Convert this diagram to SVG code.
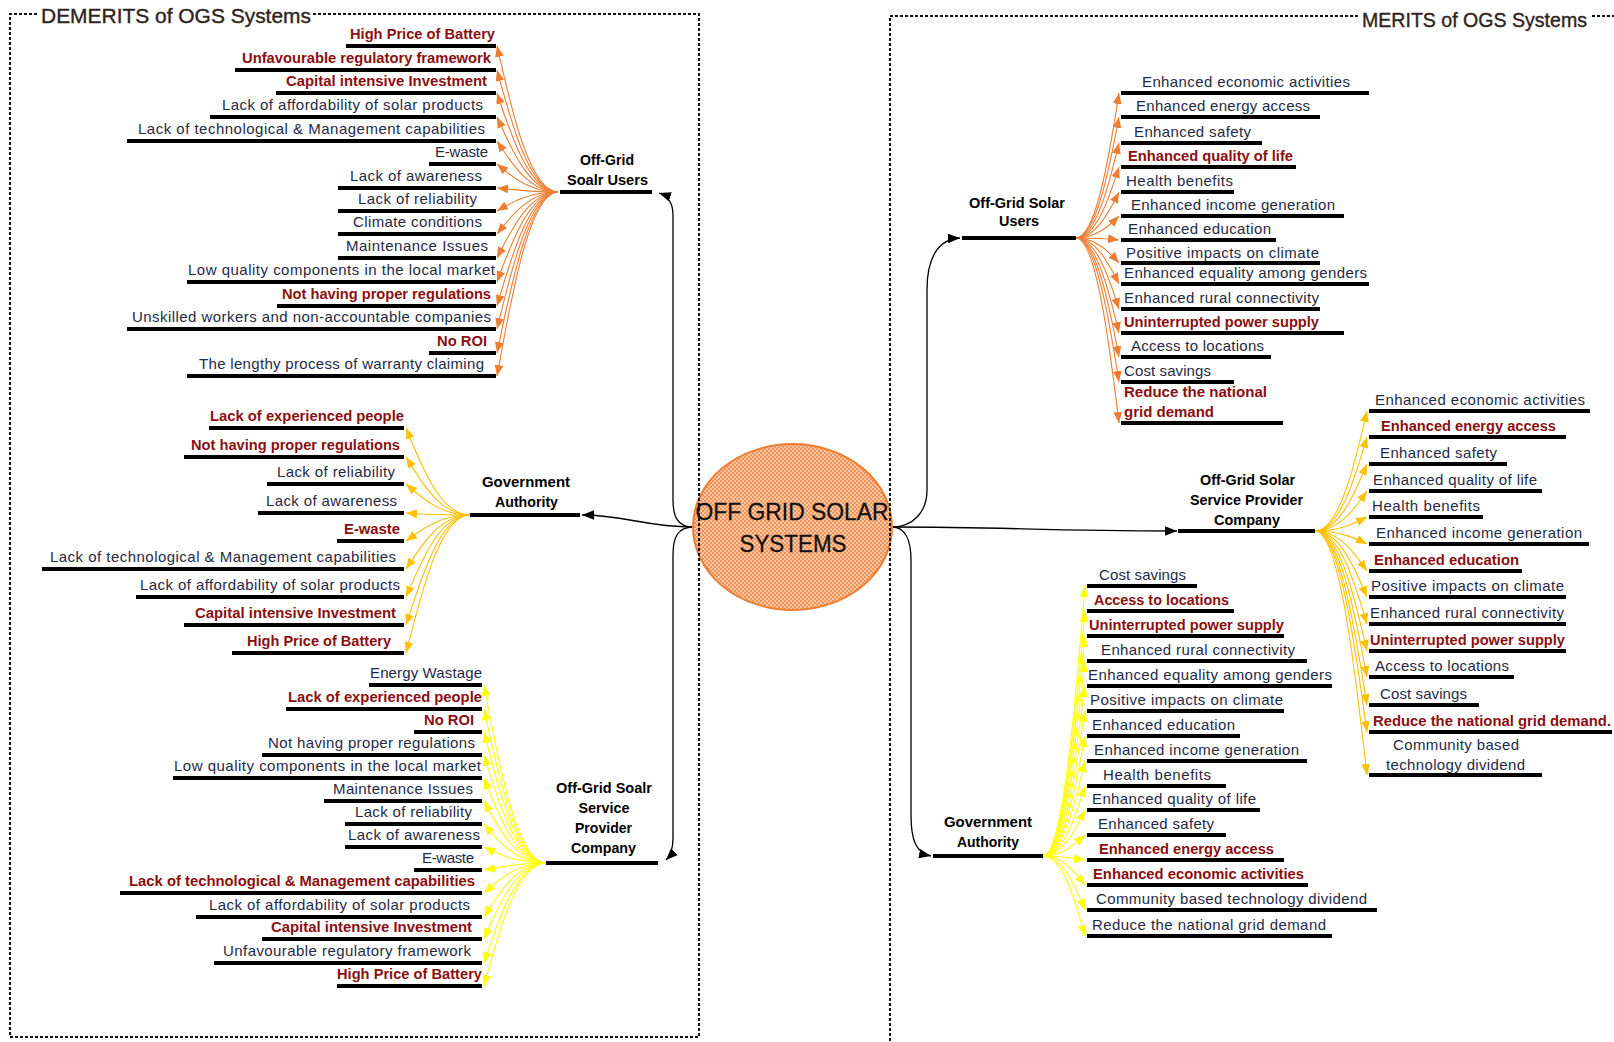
<svg xmlns="http://www.w3.org/2000/svg" width="1614" height="1042" viewBox="0 0 1614 1042">
<defs>
<style>
.r{font-family:"Liberation Sans",Arial,sans-serif;font-size:15px;fill:#1f2a44}
.b{font-family:"Liberation Sans Narrow","Liberation Sans",Arial,sans-serif;font-weight:bold;font-size:14px;fill:#8b0f0f}
.n{font-family:"Liberation Sans Narrow","Liberation Sans",Arial,sans-serif;font-weight:bold;font-size:15px;fill:#000;text-anchor:middle}
.t{font-family:"Liberation Sans Narrow","Liberation Sans",Arial,sans-serif;font-size:21px;fill:#2e2420;stroke:#2e2420;stroke-width:0.4}
.ul{stroke:#000;stroke-width:4}
.box{fill:none;stroke:#111;stroke-width:2;stroke-dasharray:3 2}
.main{fill:none;stroke:#000;stroke-width:1.3;marker-end:url(#ak)}
.co{fill:none;stroke:#ed7d31;stroke-width:1.1;marker-end:url(#ao)}
.cg{fill:none;stroke:#ffc000;stroke-width:1.1;marker-end:url(#ag)}
.cy{fill:none;stroke:#ffff00;stroke-width:1.1;marker-end:url(#ay)}
</style>
<marker id="ak" viewBox="0 0 10 8" refX="10" refY="4" markerWidth="12" markerHeight="10" markerUnits="userSpaceOnUse" orient="auto"><path d="M0,0 L10,4 L0,8 z" fill="#000"/></marker>
<marker id="ao" viewBox="0 0 10 8" refX="10" refY="4" markerWidth="11" markerHeight="9" markerUnits="userSpaceOnUse" orient="auto"><path d="M0,0 L10,4 L0,8 z" fill="#ed7d31"/></marker>
<marker id="ag" viewBox="0 0 10 8" refX="10" refY="4" markerWidth="11" markerHeight="9" markerUnits="userSpaceOnUse" orient="auto"><path d="M0,0 L10,4 L0,8 z" fill="#ffc000"/></marker>
<marker id="ay" viewBox="0 0 10 8" refX="10" refY="4" markerWidth="11" markerHeight="9" markerUnits="userSpaceOnUse" orient="auto"><path d="M0,0 L10,4 L0,8 z" fill="#ffff00"/></marker>
<pattern id="hatch" patternUnits="userSpaceOnUse" width="4" height="4"><rect width="4" height="4" fill="#f8c6a4"/><rect width="2" height="2" fill="#f09458"/><rect x="2" y="2" width="2" height="2" fill="#f09458"/></pattern>
</defs>
<rect width="1614" height="1042" fill="#fff"/>

<g id="connectors">
<path class="main" d="M693,527 C678,527 673,517 673,500 L673,215 C673,203 668,196 659,193"/>
<path class="main" d="M693,527 C645,527 625,515 582,515"/>
<path class="main" d="M693,527 C678,527 673,537 673,555 L673,838 C673,850 670,856 666,860"/>
<path class="main" d="M892,527 C913,527 927,512 927,490 L927,290 C927,258 938,239 960,238"/>
<path class="main" d="M892,527 C1010,527 1040,531 1177,531"/>
<path class="main" d="M892,527 C905,527 911,540 911,560 L911,815 C911,840 916,853 931,856"/>

<path class="co" d="M558,192 C528,192 509,97 497,46"/>
<path class="co" d="M558,192 C528,192 509,113 497,70"/>
<path class="co" d="M558,192 C528,192 509,128 497,93"/>
<path class="co" d="M558,192 C528,192 509,143 497,117"/>
<path class="co" d="M558,192 C528,192 509,159 497,141"/>
<path class="co" d="M558,192 C528,192 509,174 497,164"/>
<path class="co" d="M558,192 C528,192 509,189 497,188"/>
<path class="co" d="M558,192 C528,192 509,204 497,211"/>
<path class="co" d="M558,192 C528,192 509,219 497,234"/>
<path class="co" d="M558,192 C528,192 509,235 497,258"/>
<path class="co" d="M558,192 C528,192 509,250 497,282"/>
<path class="co" d="M558,192 C528,192 509,266 497,306"/>
<path class="co" d="M558,192 C528,192 509,281 497,329"/>
<path class="co" d="M558,192 C528,192 509,297 497,353"/>
<path class="co" d="M558,192 C528,192 509,312 497,376"/>

<path class="cg" d="M470,515 C438,515 419,458 406,428"/>
<path class="cg" d="M470,515 C438,515 419,477 406,457"/>
<path class="cg" d="M470,515 C438,515 419,495 406,484"/>
<path class="cg" d="M470,515 C438,515 419,514 406,513"/>
<path class="cg" d="M470,515 C438,515 419,532 406,541"/>
<path class="cg" d="M470,515 C438,515 419,550 406,569"/>
<path class="cg" d="M470,515 C438,515 419,568 406,597"/>
<path class="cg" d="M470,515 C438,515 419,587 406,625"/>
<path class="cg" d="M470,515 C438,515 419,605 406,653"/>

<path class="cy" d="M546,863 C515,863 496,747 484,685"/>
<path class="cy" d="M546,863 C515,863 496,763 484,709"/>
<path class="cy" d="M546,863 C515,863 496,778 484,732"/>
<path class="cy" d="M546,863 C515,863 496,793 484,755"/>
<path class="cy" d="M546,863 C515,863 496,808 484,778"/>
<path class="cy" d="M546,863 C515,863 496,823 484,801"/>
<path class="cy" d="M546,863 C515,863 496,838 484,824"/>
<path class="cy" d="M546,863 C515,863 496,853 484,847"/>
<path class="cy" d="M546,863 C515,863 496,868 484,870"/>
<path class="cy" d="M546,863 C515,863 496,883 484,893"/>
<path class="cy" d="M546,863 C515,863 496,898 484,917"/>
<path class="cy" d="M546,863 C515,863 496,912 484,939"/>
<path class="cy" d="M546,863 C515,863 496,928 484,963"/>
<path class="cy" d="M546,863 C515,863 496,943 484,986"/>

<path class="co" d="M1076,238 C1097,238 1111,144 1119,93"/>
<path class="co" d="M1076,238 C1097,238 1111,159 1119,117"/>
<path class="co" d="M1076,238 C1097,238 1111,176 1119,143"/>
<path class="co" d="M1076,238 C1097,238 1111,192 1119,167"/>
<path class="co" d="M1076,238 C1097,238 1111,208 1119,192"/>
<path class="co" d="M1076,238 C1097,238 1111,224 1119,216"/>
<path class="co" d="M1076,238 C1097,238 1111,239 1119,240"/>
<path class="co" d="M1076,238 C1097,238 1111,254 1119,263"/>
<path class="co" d="M1076,238 C1097,238 1111,268 1119,284"/>
<path class="co" d="M1076,238 C1097,238 1111,284 1119,309"/>
<path class="co" d="M1076,238 C1097,238 1111,300 1119,333"/>
<path class="co" d="M1076,238 C1097,238 1111,315 1119,357"/>
<path class="co" d="M1076,238 C1097,238 1111,332 1119,382"/>
<path class="co" d="M1076,238 C1097,238 1111,358 1119,423"/>

<path class="cg" d="M1315,531 C1341,531 1357,453 1367,411"/>
<path class="cg" d="M1315,531 C1341,531 1357,470 1367,437"/>
<path class="cg" d="M1315,531 C1341,531 1357,487 1367,464"/>
<path class="cg" d="M1315,531 C1341,531 1357,505 1367,491"/>
<path class="cg" d="M1315,531 C1341,531 1357,522 1367,517"/>
<path class="cg" d="M1315,531 C1341,531 1357,539 1367,544"/>
<path class="cg" d="M1315,531 C1341,531 1357,557 1367,571"/>
<path class="cg" d="M1315,531 C1341,531 1357,574 1367,597"/>
<path class="cg" d="M1315,531 C1341,531 1357,591 1367,624"/>
<path class="cg" d="M1315,531 C1341,531 1357,609 1367,651"/>
<path class="cg" d="M1315,531 C1341,531 1357,626 1367,677"/>
<path class="cg" d="M1315,531 C1341,531 1357,644 1367,705"/>
<path class="cg" d="M1315,531 C1341,531 1357,662 1367,732"/>
<path class="cg" d="M1315,531 C1341,531 1357,690 1367,775"/>

<path class="cy" d="M1043,856 C1064,856 1077,681 1085,586"/>
<path class="cy" d="M1043,856 C1064,856 1077,697 1085,611"/>
<path class="cy" d="M1043,856 C1064,856 1077,713 1085,636"/>
<path class="cy" d="M1043,856 C1064,856 1077,729 1085,661"/>
<path class="cy" d="M1043,856 C1064,856 1077,746 1085,686"/>
<path class="cy" d="M1043,856 C1064,856 1077,762 1085,711"/>
<path class="cy" d="M1043,856 C1064,856 1077,778 1085,736"/>
<path class="cy" d="M1043,856 C1064,856 1077,794 1085,761"/>
<path class="cy" d="M1043,856 C1064,856 1077,811 1085,786"/>
<path class="cy" d="M1043,856 C1064,856 1077,826 1085,810"/>
<path class="cy" d="M1043,856 C1064,856 1077,842 1085,835"/>
<path class="cy" d="M1043,856 C1064,856 1077,859 1085,860"/>
<path class="cy" d="M1043,856 C1064,856 1077,875 1085,885"/>
<path class="cy" d="M1043,856 C1064,856 1077,891 1085,910"/>
<path class="cy" d="M1043,856 C1064,856 1077,908 1085,936"/>
</g>

<g id="center">
<ellipse cx="792.5" cy="527" rx="99.5" ry="83" fill="url(#hatch)" stroke="#ed7d31" stroke-width="2"/>
</g>

<g id="frames">
<path class="box" d="M37,14 L10,14 L10,1037 L699,1037 L699,14 L313,14"/>
<text class="t" x="41" y="23" textLength="270" lengthAdjust="spacingAndGlyphs">DEMERITS of OGS Systems</text>
<path class="box" d="M1358,16 L890,16 L890,1042"/>
<path class="box" d="M1592,16 L1614,16"/>
<text class="t" x="1362" y="27" textLength="225" lengthAdjust="spacingAndGlyphs">MERITS of OGS Systems</text>
</g>

<g id="center-label">
<text x="792" y="520" font-family="Liberation Sans, Arial, sans-serif" font-size="24" fill="#111" stroke="#111" stroke-width="0.3" text-anchor="middle" textLength="193" lengthAdjust="spacingAndGlyphs">OFF GRID SOLAR</text>
<text x="793" y="552" font-family="Liberation Sans, Arial, sans-serif" font-size="24" fill="#111" stroke="#111" stroke-width="0.3" text-anchor="middle" textLength="107" lengthAdjust="spacingAndGlyphs">SYSTEMS</text>
</g>

<g id="hub-demerit-users">
<text class="n" x="607" y="165" textLength="54" lengthAdjust="spacingAndGlyphs">Off-Grid</text>
<text class="n" x="607.5" y="185" textLength="81" lengthAdjust="spacingAndGlyphs">Soalr Users</text>
<line class="ul" x1="560" y1="192" x2="652" y2="192"/>
</g>
<g id="hub-demerit-gov">
<text class="n" x="526" y="487" textLength="88" lengthAdjust="spacingAndGlyphs">Government</text>
<text class="n" x="526.5" y="507" textLength="63" lengthAdjust="spacingAndGlyphs">Authority</text>
<line class="ul" x1="470" y1="515" x2="580" y2="515"/>
</g>
<g id="hub-demerit-company">
<text class="n" x="604" y="793" textLength="96" lengthAdjust="spacingAndGlyphs">Off-Grid Soalr</text>
<text class="n" x="604" y="813" textLength="51" lengthAdjust="spacingAndGlyphs">Service</text>
<text class="n" x="603.5" y="833" textLength="57" lengthAdjust="spacingAndGlyphs">Provider</text>
<text class="n" x="603.5" y="853" textLength="65" lengthAdjust="spacingAndGlyphs">Company</text>
<line class="ul" x1="546" y1="863" x2="658" y2="863"/>
</g>
<g id="hub-merit-users">
<text class="n" x="1017" y="208" textLength="96" lengthAdjust="spacingAndGlyphs">Off-Grid Solar</text>
<text class="n" x="1019" y="226" textLength="40" lengthAdjust="spacingAndGlyphs">Users</text>
<line class="ul" x1="962" y1="238" x2="1076" y2="238"/>
</g>
<g id="hub-merit-company">
<text class="n" x="1247.5" y="485" textLength="95" lengthAdjust="spacingAndGlyphs">Off-Grid Solar</text>
<text class="n" x="1246.5" y="505" textLength="113" lengthAdjust="spacingAndGlyphs">Service Provider</text>
<text class="n" x="1247" y="525" textLength="66" lengthAdjust="spacingAndGlyphs">Company</text>
<line class="ul" x1="1178" y1="531" x2="1315" y2="531"/>
</g>
<g id="hub-merit-gov">
<text class="n" x="988" y="827" textLength="88" lengthAdjust="spacingAndGlyphs">Government</text>
<text class="n" x="988" y="847" textLength="62" lengthAdjust="spacingAndGlyphs">Authority</text>
<line class="ul" x1="933" y1="856" x2="1043" y2="856"/>
</g>

<g id="d-u-01"><line class="ul" x1="346" y1="46" x2="496" y2="46"/><text class="b" x="350" y="39" textLength="145" lengthAdjust="spacingAndGlyphs">High Price of Battery</text></g>
<g id="d-u-02"><line class="ul" x1="235" y1="70" x2="496" y2="70"/><text class="b" x="242" y="63" textLength="249" lengthAdjust="spacingAndGlyphs">Unfavourable regulatory framework</text></g>
<g id="d-u-03"><line class="ul" x1="276" y1="93" x2="496" y2="93"/><text class="b" x="286" y="86" textLength="201" lengthAdjust="spacingAndGlyphs">Capital intensive Investment</text></g>
<g id="d-u-04"><line class="ul" x1="210" y1="117" x2="496" y2="117"/><text class="r" x="222" y="110" textLength="261" lengthAdjust="spacing">Lack of affordability of solar products</text></g>
<g id="d-u-05"><line class="ul" x1="127" y1="141" x2="496" y2="141"/><text class="r" x="138" y="134" textLength="347" lengthAdjust="spacing">Lack of technological &amp; Management capabilities</text></g>
<g id="d-u-06"><line class="ul" x1="429" y1="164" x2="496" y2="164"/><text class="r" x="435" y="157" textLength="53" lengthAdjust="spacing">E-waste</text></g>
<g id="d-u-07"><line class="ul" x1="338" y1="188" x2="496" y2="188"/><text class="r" x="350" y="181" textLength="132" lengthAdjust="spacing">Lack of awareness</text></g>
<g id="d-u-08"><line class="ul" x1="338" y1="211" x2="496" y2="211"/><text class="r" x="358" y="204" textLength="119" lengthAdjust="spacing">Lack of reliability</text></g>
<g id="d-u-09"><line class="ul" x1="338" y1="234" x2="496" y2="234"/><text class="r" x="353" y="227" textLength="129" lengthAdjust="spacing">Climate conditions</text></g>
<g id="d-u-10"><line class="ul" x1="338" y1="258" x2="496" y2="258"/><text class="r" x="346" y="251" textLength="142" lengthAdjust="spacing">Maintenance Issues</text></g>
<g id="d-u-11"><line class="ul" x1="187" y1="282" x2="496" y2="282"/><text class="r" x="188" y="275" textLength="307" lengthAdjust="spacing">Low quality components in the local market</text></g>
<g id="d-u-12"><line class="ul" x1="277" y1="306" x2="496" y2="306"/><text class="b" x="282" y="299" textLength="209" lengthAdjust="spacingAndGlyphs">Not having proper regulations</text></g>
<g id="d-u-13"><line class="ul" x1="127" y1="329" x2="496" y2="329"/><text class="r" x="132" y="322" textLength="359" lengthAdjust="spacing">Unskilled workers and non-accountable companies</text></g>
<g id="d-u-14"><line class="ul" x1="429" y1="353" x2="496" y2="353"/><text class="b" x="437" y="346" textLength="50" lengthAdjust="spacingAndGlyphs">No ROI</text></g>
<g id="d-u-15"><line class="ul" x1="187" y1="376" x2="496" y2="376"/><text class="r" x="199" y="369" textLength="285" lengthAdjust="spacing">The lengthy process of warranty claiming</text></g>

<g id="d-g-01"><line class="ul" x1="209" y1="428" x2="404" y2="428"/><text class="b" x="210" y="421" textLength="194" lengthAdjust="spacingAndGlyphs">Lack of experienced people</text></g>
<g id="d-g-02"><line class="ul" x1="184" y1="457" x2="404" y2="457"/><text class="b" x="191" y="450" textLength="209" lengthAdjust="spacingAndGlyphs">Not having proper regulations</text></g>
<g id="d-g-03"><line class="ul" x1="267" y1="484" x2="404" y2="484"/><text class="r" x="277" y="477" textLength="118" lengthAdjust="spacing">Lack of reliability</text></g>
<g id="d-g-04"><line class="ul" x1="258" y1="513" x2="404" y2="513"/><text class="r" x="266" y="506" textLength="131" lengthAdjust="spacing">Lack of awareness</text></g>
<g id="d-g-05"><line class="ul" x1="337" y1="541" x2="404" y2="541"/><text class="b" x="344" y="534" textLength="56" lengthAdjust="spacingAndGlyphs">E-waste</text></g>
<g id="d-g-06"><line class="ul" x1="42" y1="569" x2="404" y2="569"/><text class="r" x="50" y="562" textLength="346" lengthAdjust="spacing">Lack of technological &amp; Management capabilities</text></g>
<g id="d-g-07"><line class="ul" x1="136" y1="597" x2="404" y2="597"/><text class="r" x="140" y="590" textLength="260" lengthAdjust="spacing">Lack of affordability of solar products</text></g>
<g id="d-g-08"><line class="ul" x1="184" y1="625" x2="404" y2="625"/><text class="b" x="195" y="618" textLength="201" lengthAdjust="spacingAndGlyphs">Capital intensive Investment</text></g>
<g id="d-g-09"><line class="ul" x1="232" y1="653" x2="404" y2="653"/><text class="b" x="247" y="646" textLength="144" lengthAdjust="spacingAndGlyphs">High Price of Battery</text></g>

<g id="d-c-01"><line class="ul" x1="369" y1="685" x2="482" y2="685"/><text class="r" x="370" y="678" textLength="112" lengthAdjust="spacing">Energy Wastage</text></g>
<g id="d-c-02"><line class="ul" x1="286" y1="709" x2="482" y2="709"/><text class="b" x="288" y="702" textLength="194" lengthAdjust="spacingAndGlyphs">Lack of experienced people</text></g>
<g id="d-c-03"><line class="ul" x1="414" y1="732" x2="482" y2="732"/><text class="b" x="424" y="725" textLength="50" lengthAdjust="spacingAndGlyphs">No ROI</text></g>
<g id="d-c-04"><line class="ul" x1="262" y1="755" x2="482" y2="755"/><text class="r" x="268" y="748" textLength="207" lengthAdjust="spacing">Not having proper regulations</text></g>
<g id="d-c-05"><line class="ul" x1="173" y1="778" x2="482" y2="778"/><text class="r" x="174" y="771" textLength="307" lengthAdjust="spacing">Low quality components in the local market</text></g>
<g id="d-c-06"><line class="ul" x1="324" y1="801" x2="482" y2="801"/><text class="r" x="333" y="794" textLength="140" lengthAdjust="spacing">Maintenance Issues</text></g>
<g id="d-c-07"><line class="ul" x1="345" y1="824" x2="482" y2="824"/><text class="r" x="355" y="817" textLength="117" lengthAdjust="spacing">Lack of reliability</text></g>
<g id="d-c-08"><line class="ul" x1="345" y1="847" x2="482" y2="847"/><text class="r" x="348" y="840" textLength="132" lengthAdjust="spacing">Lack of awareness</text></g>
<g id="d-c-09"><line class="ul" x1="414" y1="870" x2="482" y2="870"/><text class="r" x="422" y="863" textLength="52" lengthAdjust="spacing">E-waste</text></g>
<g id="d-c-10"><line class="ul" x1="120" y1="893" x2="482" y2="893"/><text class="b" x="129" y="886" textLength="346" lengthAdjust="spacingAndGlyphs">Lack of technological &amp; Management capabilities</text></g>
<g id="d-c-11"><line class="ul" x1="196" y1="917" x2="482" y2="917"/><text class="r" x="209" y="910" textLength="261" lengthAdjust="spacing">Lack of affordability of solar products</text></g>
<g id="d-c-12"><line class="ul" x1="262" y1="939" x2="482" y2="939"/><text class="b" x="271" y="932" textLength="201" lengthAdjust="spacingAndGlyphs">Capital intensive Investment</text></g>
<g id="d-c-13"><line class="ul" x1="214" y1="963" x2="482" y2="963"/><text class="r" x="223" y="956" textLength="248" lengthAdjust="spacing">Unfavourable regulatory framework</text></g>
<g id="d-c-14"><line class="ul" x1="337" y1="986" x2="482" y2="986"/><text class="b" x="337" y="979" textLength="145" lengthAdjust="spacingAndGlyphs">High Price of Battery</text></g>

<g id="m-u-01"><line class="ul" x1="1121" y1="93" x2="1369" y2="93"/><text class="r" x="1142" y="87" textLength="208" lengthAdjust="spacing">Enhanced economic activities</text></g>
<g id="m-u-02"><line class="ul" x1="1121" y1="117" x2="1320" y2="117"/><text class="r" x="1136" y="111" textLength="174" lengthAdjust="spacing">Enhanced energy access</text></g>
<g id="m-u-03"><line class="ul" x1="1121" y1="143" x2="1262" y2="143"/><text class="r" x="1134" y="137" textLength="117" lengthAdjust="spacing">Enhanced safety</text></g>
<g id="m-u-04"><line class="ul" x1="1121" y1="167" x2="1296" y2="167"/><text class="b" x="1128" y="161" textLength="165" lengthAdjust="spacingAndGlyphs">Enhanced quality of life</text></g>
<g id="m-u-05"><line class="ul" x1="1121" y1="192" x2="1234" y2="192"/><text class="r" x="1126" y="186" textLength="107" lengthAdjust="spacing">Health benefits</text></g>
<g id="m-u-06"><line class="ul" x1="1121" y1="216" x2="1344" y2="216"/><text class="r" x="1131" y="210" textLength="204" lengthAdjust="spacing">Enhanced income generation</text></g>
<g id="m-u-07"><line class="ul" x1="1121" y1="240" x2="1276" y2="240"/><text class="r" x="1128" y="234" textLength="143" lengthAdjust="spacing">Enhanced education</text></g>
<g id="m-u-08"><line class="ul" x1="1121" y1="263" x2="1320" y2="263"/><text class="r" x="1126" y="258" textLength="193" lengthAdjust="spacing">Positive impacts on climate</text></g>
<g id="m-u-09"><line class="ul" x1="1121" y1="284" x2="1369" y2="284"/><text class="r" x="1124" y="278" textLength="243" lengthAdjust="spacing">Enhanced equality among genders</text></g>
<g id="m-u-10"><line class="ul" x1="1121" y1="309" x2="1320" y2="309"/><text class="r" x="1124" y="303" textLength="195" lengthAdjust="spacing">Enhanced rural connectivity</text></g>
<g id="m-u-11"><line class="ul" x1="1121" y1="333" x2="1344" y2="333"/><text class="b" x="1124" y="327" textLength="195" lengthAdjust="spacingAndGlyphs">Uninterrupted power supply</text></g>
<g id="m-u-12"><line class="ul" x1="1121" y1="357" x2="1271" y2="357"/><text class="r" x="1131" y="351" textLength="133" lengthAdjust="spacing">Access to locations</text></g>
<g id="m-u-13"><line class="ul" x1="1121" y1="382" x2="1234" y2="382"/><text class="r" x="1124" y="376" textLength="87" lengthAdjust="spacing">Cost savings</text></g>
<g id="m-u-14"><line class="ul" x1="1121" y1="423" x2="1283" y2="423"/><text class="b" x="1124" y="397" textLength="143" lengthAdjust="spacingAndGlyphs">Reduce the national</text><text class="b" x="1124" y="417" textLength="90" lengthAdjust="spacingAndGlyphs">grid demand</text></g>

<g id="m-c-01"><line class="ul" x1="1369" y1="411" x2="1590" y2="411"/><text class="r" x="1375" y="405" textLength="210" lengthAdjust="spacing">Enhanced economic activities</text></g>
<g id="m-c-02"><line class="ul" x1="1369" y1="437" x2="1566" y2="437"/><text class="b" x="1381" y="431" textLength="175" lengthAdjust="spacingAndGlyphs">Enhanced energy access</text></g>
<g id="m-c-03"><line class="ul" x1="1369" y1="464" x2="1507" y2="464"/><text class="r" x="1380" y="458" textLength="117" lengthAdjust="spacing">Enhanced safety</text></g>
<g id="m-c-04"><line class="ul" x1="1369" y1="491" x2="1542" y2="491"/><text class="r" x="1373" y="485" textLength="164" lengthAdjust="spacing">Enhanced quality of life</text></g>
<g id="m-c-05"><line class="ul" x1="1369" y1="517" x2="1483" y2="517"/><text class="r" x="1372" y="511" textLength="108" lengthAdjust="spacing">Health benefits</text></g>
<g id="m-c-06"><line class="ul" x1="1369" y1="544" x2="1589" y2="544"/><text class="r" x="1376" y="538" textLength="206" lengthAdjust="spacing">Enhanced income generation</text></g>
<g id="m-c-07"><line class="ul" x1="1369" y1="571" x2="1522" y2="571"/><text class="b" x="1374" y="565" textLength="145" lengthAdjust="spacingAndGlyphs">Enhanced education</text></g>
<g id="m-c-08"><line class="ul" x1="1369" y1="597" x2="1566" y2="597"/><text class="r" x="1371" y="591" textLength="193" lengthAdjust="spacing">Positive impacts on climate</text></g>
<g id="m-c-09"><line class="ul" x1="1369" y1="624" x2="1566" y2="624"/><text class="r" x="1370" y="618" textLength="194" lengthAdjust="spacing">Enhanced rural connectivity</text></g>
<g id="m-c-10"><line class="ul" x1="1369" y1="651" x2="1566" y2="651"/><text class="b" x="1370" y="645" textLength="195" lengthAdjust="spacingAndGlyphs">Uninterrupted power supply</text></g>
<g id="m-c-11"><line class="ul" x1="1369" y1="677" x2="1514" y2="677"/><text class="r" x="1375" y="671" textLength="134" lengthAdjust="spacing">Access to locations</text></g>
<g id="m-c-12"><line class="ul" x1="1369" y1="705" x2="1479" y2="705"/><text class="r" x="1380" y="699" textLength="87" lengthAdjust="spacing">Cost savings</text></g>
<g id="m-c-13"><line class="ul" x1="1369" y1="732" x2="1612" y2="732"/><text class="b" x="1373" y="726" textLength="238" lengthAdjust="spacingAndGlyphs">Reduce the national grid demand.</text></g>
<g id="m-c-14"><line class="ul" x1="1369" y1="775" x2="1542" y2="775"/><text class="r" x="1393" y="750" textLength="126" lengthAdjust="spacing">Community based</text><text class="r" x="1386" y="770" textLength="139" lengthAdjust="spacing">technology dividend</text></g>

<g id="m-g-01"><line class="ul" x1="1087" y1="586" x2="1197" y2="586"/><text class="r" x="1099" y="580" textLength="87" lengthAdjust="spacing">Cost savings</text></g>
<g id="m-g-02"><line class="ul" x1="1087" y1="611" x2="1234" y2="611"/><text class="b" x="1094" y="605" textLength="135" lengthAdjust="spacingAndGlyphs">Access to locations</text></g>
<g id="m-g-03"><line class="ul" x1="1087" y1="636" x2="1284" y2="636"/><text class="b" x="1089" y="630" textLength="195" lengthAdjust="spacingAndGlyphs">Uninterrupted power supply</text></g>
<g id="m-g-04"><line class="ul" x1="1087" y1="661" x2="1307" y2="661"/><text class="r" x="1101" y="655" textLength="194" lengthAdjust="spacing">Enhanced rural connectivity</text></g>
<g id="m-g-05"><line class="ul" x1="1087" y1="686" x2="1332" y2="686"/><text class="r" x="1088" y="680" textLength="244" lengthAdjust="spacing">Enhanced equality among genders</text></g>
<g id="m-g-06"><line class="ul" x1="1087" y1="711" x2="1284" y2="711"/><text class="r" x="1090" y="705" textLength="193" lengthAdjust="spacing">Positive impacts on climate</text></g>
<g id="m-g-07"><line class="ul" x1="1087" y1="736" x2="1240" y2="736"/><text class="r" x="1092" y="730" textLength="143" lengthAdjust="spacing">Enhanced education</text></g>
<g id="m-g-08"><line class="ul" x1="1087" y1="761" x2="1307" y2="761"/><text class="r" x="1094" y="755" textLength="205" lengthAdjust="spacing">Enhanced income generation</text></g>
<g id="m-g-09"><line class="ul" x1="1087" y1="786" x2="1226" y2="786"/><text class="r" x="1103" y="780" textLength="108" lengthAdjust="spacing">Health benefits</text></g>
<g id="m-g-10"><line class="ul" x1="1087" y1="810" x2="1260" y2="810"/><text class="r" x="1092" y="804" textLength="164" lengthAdjust="spacing">Enhanced quality of life</text></g>
<g id="m-g-11"><line class="ul" x1="1087" y1="835" x2="1226" y2="835"/><text class="r" x="1098" y="829" textLength="116" lengthAdjust="spacing">Enhanced safety</text></g>
<g id="m-g-12"><line class="ul" x1="1087" y1="860" x2="1284" y2="860"/><text class="b" x="1099" y="854" textLength="175" lengthAdjust="spacingAndGlyphs">Enhanced energy access</text></g>
<g id="m-g-13"><line class="ul" x1="1087" y1="885" x2="1308" y2="885"/><text class="b" x="1093" y="879" textLength="211" lengthAdjust="spacingAndGlyphs">Enhanced economic activities</text></g>
<g id="m-g-14"><line class="ul" x1="1087" y1="910" x2="1377" y2="910"/><text class="r" x="1096" y="904" textLength="271" lengthAdjust="spacing">Community based technology dividend</text></g>
<g id="m-g-15"><line class="ul" x1="1087" y1="936" x2="1332" y2="936"/><text class="r" x="1092" y="930" textLength="234" lengthAdjust="spacing">Reduce the national grid demand</text></g>
</svg>
